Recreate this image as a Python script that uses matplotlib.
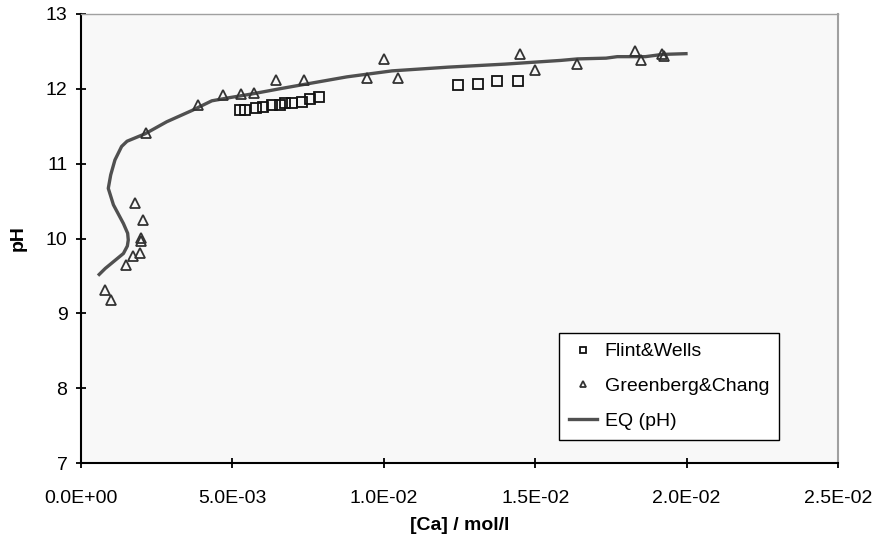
import matplotlib
matplotlib.use("Agg")
import matplotlib.pyplot as plt
from matplotlib.ticker import FuncFormatter

plt.rcParams['font.family'] = ['Liberation Sans', 'DejaVu Sans']

# Flint & Wells data
fw_ca = [0.00525, 0.00542, 0.00578, 0.00601, 0.00630, 0.00657, 0.00674,
         0.00696, 0.00729, 0.00756, 0.00787, 0.01246, 0.01310, 0.01373, 0.01442]
fw_ph = [11.72, 11.72, 11.74, 11.76, 11.79, 11.79, 11.81,
         11.81, 11.83, 11.86, 11.89, 12.05, 12.07, 12.10, 12.11]

# Greenberg & Chang data
gc_ca = [0.00079, 0.00098, 0.00149, 0.00171, 0.00195, 0.00198, 0.00198,
         0.00204, 0.00178, 0.00214, 0.00387, 0.00469, 0.00528, 0.00571,
         0.00644, 0.00738, 0.00943, 0.01001, 0.01047, 0.01451, 0.01499,
         0.01637, 0.01830, 0.01850, 0.01920, 0.01925]
gc_ph = [9.31, 9.18, 9.64, 9.76, 9.80, 9.97, 10.01,
         10.25, 10.48, 11.41, 11.78, 11.92, 11.93, 11.95,
         12.12, 12.12, 12.15, 12.40, 12.15, 12.47, 12.25,
         12.33, 12.51, 12.39, 12.46, 12.44]

# equilibrium model curve
eq_ca = [0.00060, 0.00080, 0.00104, 0.00140, 0.00153, 0.00156, 0.00154,
         0.00140, 0.00107, 0.00090, 0.00098, 0.00112, 0.00134, 0.00152,
         0.00212, 0.00283, 0.00366, 0.00432, 0.00487, 0.00562, 0.00655,
         0.00766, 0.00878, 0.01027, 0.01213, 0.01399, 0.01585, 0.01640,
         0.01734, 0.01771, 0.01864, 0.01920, 0.01998]
eq_ph = [9.52, 9.60, 9.68, 9.80, 9.90, 9.98, 10.07,
         10.20, 10.45, 10.67, 10.85, 11.05, 11.23, 11.30,
         11.40, 11.56, 11.71, 11.84, 11.88, 11.93, 12.00,
         12.08, 12.16, 12.24, 12.29, 12.33, 12.38, 12.40,
         12.41, 12.43, 12.43, 12.46, 12.47]

fig = plt.figure(figsize=(8.77, 5.49), dpi=100)
ax = fig.add_axes([0.0924, 0.1566, 0.8631, 0.8179])
ax.set_facecolor('#f8f8f8')

ax.plot(fw_ca, fw_ph, linestyle='none', marker='s', markersize=6.8,
        markerfacecolor='none', markeredgecolor='#111111',
        markeredgewidth=1.3, label='Flint&Wells', zorder=3)
ax.plot(gc_ca, gc_ph, linestyle='none', marker='^', markersize=7,
        markerfacecolor='none', markeredgecolor='#333333',
        markeredgewidth=1.3, label='Greenberg&Chang', zorder=3)
ax.plot(eq_ca, eq_ph, color='#505050', linewidth=2.4,
        label='EQ (pH)', zorder=2)

ax.set_xlim(0, 0.025)
ax.set_ylim(7, 13)
ax.set_xticks([0, 0.005, 0.01, 0.015, 0.02, 0.025])
ax.set_yticks([7, 8, 9, 10, 11, 12, 13])
ax.xaxis.set_major_formatter(FuncFormatter(lambda v, p: f"{v:.1E}"))

ax.tick_params(direction='inout', length=7.5, width=1.3, labelsize=14,
               colors='black')
ax.tick_params(axis='x', pad=16)
ax.tick_params(axis='y', pad=6)

ax.spines['left'].set_linewidth(1.5)
ax.spines['bottom'].set_linewidth(1.5)
ax.spines['top'].set_color('#a0a0a0')
ax.spines['top'].set_linewidth(1.0)
ax.spines['right'].set_color('#a0a0a0')
ax.spines['right'].set_linewidth(1.5)

ax.set_xlabel('[Ca] / mol/l', fontsize=14, fontweight='bold', labelpad=7)
ax.set_ylabel('pH', fontsize=14, fontweight='bold', labelpad=14)

leg = ax.legend(loc='upper left', bbox_to_anchor=(0.6314, 0.2895),
                fontsize=14, frameon=True, fancybox=False,
                edgecolor='black', facecolor='white', framealpha=1,
                markerscale=0.6, handlelength=1.45, handletextpad=0.4,
                labelspacing=0.88, borderpad=0.5, borderaxespad=0)
leg.get_frame().set_linewidth(1.0)

fig.savefig('out.png', dpi=100)
